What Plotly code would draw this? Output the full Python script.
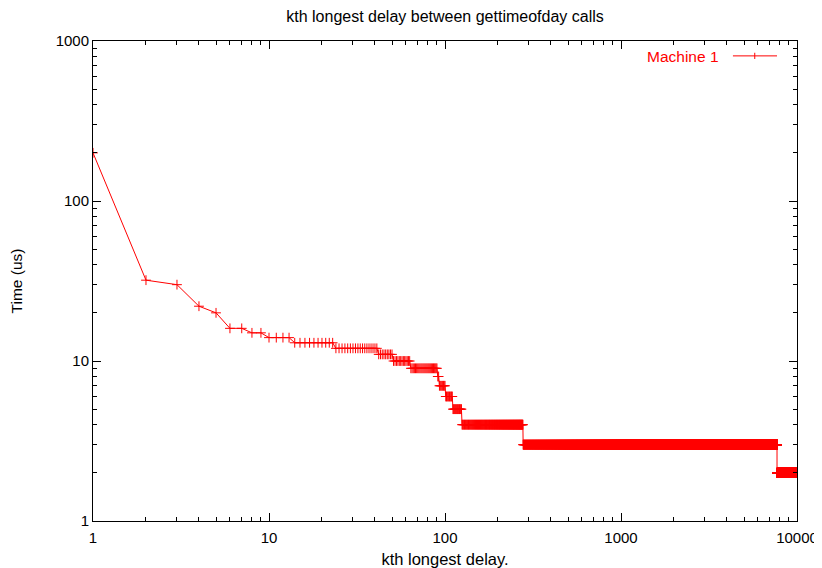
import numpy as np
import plotly.graph_objects as go

# Step levels (us) of the k-th longest delay, and how many consecutive k share each level
step_values = [200, 32, 30, 22, 20, 16, 15, 14, 13, 12, 11, 10, 9, 8, 7, 6, 5, 4, 3, 2]
step_counts = [1, 1, 1, 1, 1, 2, 2, 4, 10, 18, 9, 13, 27, 2, 8, 10, 14, 153, 7423, 2300]

x_tickvals = [1, 10, 100, 1000, 10000]
x_ticktext = ["1", "10", "100", "1000", "10000"]
y_tickvals = [1, 10, 100, 1000]
y_ticktext = ["1", "10", "100", "1000"]

series_name = "Machine 1"
title = "kth longest delay between gettimeofday calls"
x_title = "kth longest delay."
y_title = "Time (us)"

y = np.repeat(step_values, step_counts)
k = np.arange(1, len(y) + 1)

x_minor = [m * 10 ** d for d in range(4) for m in range(2, 10)]
y_minor = [m * 10 ** d for d in range(3) for m in range(2, 10)]

RED = "#ff0000"
FONT = "Liberation Sans, Arial, sans-serif"

fig = go.Figure()
fig.add_trace(go.Scatter(
    x=k, y=y, mode="lines+markers", name=series_name,
    line=dict(color=RED, width=1),
    marker=dict(symbol="cross-thin", size=7, line=dict(color=RED, width=1), color=RED),
    showlegend=False,
))

axis_common = dict(
    type="log", showline=True, linecolor="black", linewidth=1, mirror="ticks",
    ticks="inside", ticklen=8, tickwidth=1, tickcolor="black",
    showgrid=False, zeroline=False, automargin=False,
    tickfont=dict(family=FONT, size=15, color="black"),
)

fig.update_xaxes(range=[0, 4], tickmode="array", tickvals=x_tickvals, ticktext=x_ticktext,
                 ticklabelstandoff=3,
                 minor=dict(tickmode="array", tickvals=x_minor, ticks="inside", ticklen=4,
                            tickwidth=1, tickcolor="black", showgrid=False),
                 title=dict(text=x_title, font=dict(family=FONT, size=16.5, color="black"), standoff=10),
                 **axis_common)
fig.update_yaxes(range=[0, 3], tickmode="array", tickvals=y_tickvals, ticktext=y_ticktext,
                 minor=dict(tickmode="array", tickvals=y_minor, ticks="inside", ticklen=4,
                            tickwidth=1, tickcolor="black", showgrid=False),
                 title=dict(text=y_title, font=dict(family=FONT, size=15.5, color="black"), standoff=29),
                 **axis_common)

# legend key (gnuplot style: text then sample)
fig.add_annotation(xref="paper", yref="paper", x=0.8926, y=0.968, xanchor="right", yanchor="middle",
                   text=series_name, showarrow=False, font=dict(family=FONT, size=15.5, color=RED))
fig.add_shape(type="line", xref="paper", yref="paper", x0=0.909, x1=0.9716, y0=0.969, y1=0.969,
              line=dict(color=RED, width=1))
fig.add_shape(type="line", xref="paper", yref="paper", x0=0.940, x1=0.940, y0=0.9625, y1=0.9755,
              line=dict(color=RED, width=1))

# page body adds an 8px offset; size the figure so the plot area lands where the reference has it
fig.update_layout(
    width=814, height=560,
    margin=dict(l=85, r=25, t=33, b=47, autoexpand=False),
    paper_bgcolor="white", plot_bgcolor="white",
    title=dict(text=title, x=0.5, xref="paper", y=1 - 8 / 560, yanchor="middle",
               font=dict(family=FONT, size=16, color="black"), automargin=False),
    font=dict(family=FONT, size=15, color="black"),
)

fig.write_html("out.html")
